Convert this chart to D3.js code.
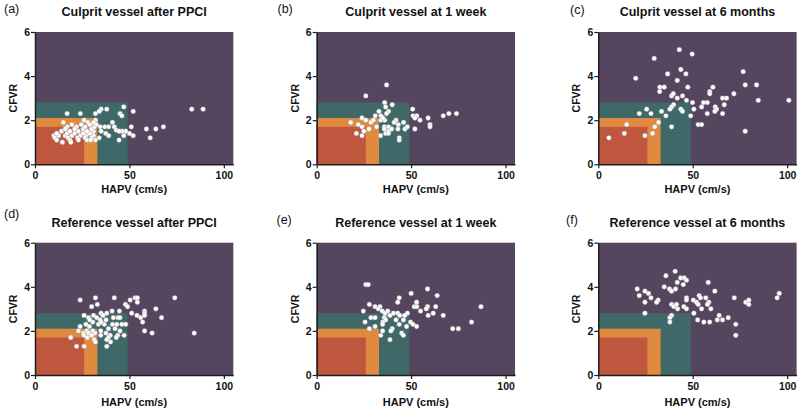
<!DOCTYPE html>
<html><head><meta charset="utf-8">
<script src="https://cdn.jsdelivr.net/npm/d3@7"></script>
<style>
html,body{margin:0;padding:0;background:#fff;}
svg{display:block;font-family:"Liberation Sans",Arial,sans-serif;}
</style></head>
<body>
<svg id="chart" width="800" height="413"></svg>
<script>
// ---------- data ----------
const panelLabels = ["(a)","(b)","(c)","(d)","(e)","(f)"];
const panelTitles = ["Culprit vessel after PPCI","Culprit vessel at 1 week","Culprit vessel at 6 months",
  "Reference vessel after PPCI","Reference vessel at 1 week","Reference vessel at 6 months"];
const xTicks = [0,50,100];
const yTicks = [0,2,4,6];
const xLabel = "HAPV (cm/s)";
const yLabel = "CFVR";
const zoneHAPV = [49,33,26];
const zoneCFVR = [2.8,2.1,1.7];

const culpritPPCI = [[17,2.3],[24,2.3],[35,2.5],[38,2.5],[34,2.4],[32,2.3],[47,2.6],[45,2.3],[46,2.2],[52,2.4],[83,2.5],[89,2.5],
 [26,2.0],[28,1.9],[32,2.0],[15,1.9],[17,1.7],[22,1.7],[34.5,1.7],[37,1.7],[39,1.7],[41,1.9],[42,1.7],[43,1.55],[51,1.7],
 [59,1.6],[64,1.6],[68,1.7],[61,1.2],[52,1.3],[50,1.4],[48,1.5],[46,1.5],[44.5,1.5],[47,1.3],[44.5,1.1],[37.5,1.4],[39,1.3],
 [35,1.5],[34,1.2],[32,1.1],
 [10,1.3],[12.5,1.3],[16,1.3],[19.5,1.3],[24,1.3],[27,1.3],[31,1.3],
 [11.5,1.4],[17,1.4],[21,1.4],[25.5,1.4],[29,1.4],
 [10.5,1.2],[17.5,1.2],[22.5,1.2],[26.5,1.2],[30,1.2],
 [11.5,1.1],[18.5,1.1],[23,1.1],[27.5,1.1],[29.5,1.1],
 [14.5,1.0],[19,1.0],
 [14,1.5],[18.5,1.5],[23,1.5],[27.5,1.5],[31,1.5],
 [16,1.6],[21,1.6],[25.5,1.6],[30,1.6],
 [26.5,1.7],[31.5,1.7],
 [19.5,1.8],[24.5,1.8],[29,1.8],[32.5,1.8],[31,1.9]];

const culprit1w = [[37,3.6],[26,3.1],[36,2.8],[40,2.7],[36.5,2.6],[38,2.4],[33,2.4],[31,2.2],[34,2.2],[37,2.3],[24,2.1],
 [26,2.0],[18,1.9],[28.7,1.9],[30,2.0],[34,2.0],[36,2.0],[42,2.0],[22,1.8],[24,1.7],[25,1.5],[21,1.4],[24,1.3],[27.7,1.6],
 [31.7,1.7],[35.8,1.7],[38,1.7],[39.7,1.6],[35.8,1.6],[38,1.5],[36.5,1.4],[38,1.4],[33.8,1.3],[43,1.6],[41,1.9],[43.2,1.8],
 [46,1.9],[46.7,1.6],[48,1.7],[43.7,1.2],[43.7,1.1],[50.8,2.5],[51,2.2],[53,2.2],[52,2.1],[54.7,2.0],[52,1.6],[59,2.1],
 [60,1.8],[60,1.7],[67,2.2],[70,2.3],[74,2.3],[35,2.1]];

const culprit6m = [[42.9,5.2],[49.7,5.0],[29.6,4.8],[43.7,4.3],[36.7,4.1],[46.4,4.1],[76.7,4.2],[19.8,3.9],[41.8,3.8],
 [77.8,3.6],[83.8,3.6],[32.6,3.5],[34.9,3.5],[47.4,3.5],[60.7,3.5],[59,3.3],[59,3.2],[71.8,3.2],[32.5,3.3],[38.8,3.1],
 [39.7,3.2],[41.8,3.0],[44.6,3.1],[46.7,2.9],[49.9,2.8],[55.7,2.8],[57.7,2.8],[65.8,3.0],[67.9,3.0],[84.7,2.9],[100.9,2.9],
 [39.9,2.7],[38.8,2.6],[37.9,2.5],[43.7,2.5],[44.6,2.4],[50.6,2.5],[54.7,2.6],[61.9,2.6],[62.6,2.5],[61.7,2.4],[66.7,2.7],
 [65.8,2.3],[57.7,2.3],[48.9,2.2],[35.8,2.2],[33.5,2.4],[25.6,2.5],[27.9,2.3],[21.7,2.3],[31.9,1.9],[29.9,1.7],[38.8,1.7],
 [15,1.8],[52.9,1.8],[54.7,1.8],[77.8,1.5],[5.6,1.2],[13.8,1.4],[24.7,1.3],[28.7,1.4]];

const referencePPCI = [[23.9,3.4],[32,3.5],[42,3.5],[53,3.5],[54.2,3.5],[74,3.5],[33,3.2],[30,3.1],[47.9,3.2],[49,3.1],
 [50.4,3.4],[54.2,3.3],[64,3.0],[58,2.9],[58,2.8],[58,2.7],[51.2,2.8],[54,2.7],[56,2.6],[57,2.4],[67,2.6],[58,2.0],[62,1.9],
 [84.3,1.9],[44.7,2.9],[40.8,2.9],[38,2.8],[35,2.8],[36,2.7],[26,2.7],[31,2.7],[28.3,2.6],[32.7,2.6],[34.5,2.5],[37.6,2.5],
 [41.5,2.6],[44,2.6],[45,2.6],[30.6,2.4],[33.6,2.3],[36.7,2.3],[41,2.3],[43.3,2.3],[46,2.3],[48,2.3],[27,2.3],[23.9,2.2],
 [28.8,2.2],[23,2.0],[27.4,2.0],[30.6,2.0],[34.8,2.0],[38.9,2.1],[42.4,2.1],[45,2.0],[25.6,1.9],[28.3,1.9],[31.8,1.9],
 [37.6,1.9],[26,1.8],[30,1.8],[34.8,1.8],[39.8,1.8],[43.8,1.8],[47.2,1.8],[18.9,1.7],[27.7,1.7],[38.9,1.7],[43,1.7],
 [31.4,1.6],[38,1.6],[32,1.5],[40,1.5],[22,1.3],[26,1.3],[38,1.3],[35,2.4],[29,2.5]];

const reference1w = [[26,4.1],[27.3,4.1],[58.7,3.9],[50,3.7],[63.8,3.6],[43.7,3.5],[42.9,3.3],[52.9,3.3],[27.9,3.2],
 [30.9,3.1],[33.5,3.1],[51.7,3.1],[53,3.1],[58.7,3.1],[63,3.1],[87,3.1],[24.7,2.9],[32.6,3.0],[34.7,2.9],[37.6,2.9],
 [40.6,2.8],[42.9,2.8],[48,2.8],[55,2.9],[58,3.0],[61.7,2.8],[59,2.7],[67,2.7],[36.2,2.8],[38.8,2.7],[44,2.7],[46.6,2.7],
 [28.7,2.6],[30.9,2.6],[35.8,2.6],[36.5,2.5],[42,2.5],[45.9,2.5],[25.6,2.4],[35,2.4],[49.7,2.4],[51,2.3],[52.9,2.2],
 [82,2.4],[43.7,2.3],[34.9,2.3],[30.9,2.2],[40,2.1],[47.6,2.2],[27.9,2.1],[72,2.1],[75,2.1],[34.9,2.0],[39.3,2.0],
 [45,1.9],[45.9,1.8],[33.9,1.8],[38.8,1.6]];

const reference6m = [[40.7,4.7],[35.8,4.5],[43.6,4.4],[45.5,4.4],[46.7,4.3],[41.8,4.2],[45,4.1],[58.2,4.2],[34.9,4.0],
 [37.7,3.9],[40.9,3.9],[20.6,3.9],[38.8,3.8],[24.7,3.8],[61.7,3.8],[21.7,3.6],[26.6,3.7],[27.9,3.5],[31.7,3.4],[30.9,3.3],
 [24.7,3.3],[46.7,3.5],[46.7,3.4],[50.3,3.4],[53.4,3.6],[54.1,3.5],[56.9,3.5],[58.5,3.3],[57.8,3.2],[59.6,3.0],[52,3.3],
 [52.9,3.2],[38.8,3.2],[40,3.1],[42,3.0],[41.4,3.2],[45.3,3.1],[46.7,3.0],[54.7,3.0],[50.6,2.8],[24.7,2.8],[38.8,2.7],
 [37.9,2.6],[37.9,2.4],[52.6,2.5],[55.9,2.4],[59,2.4],[64,2.7],[63,2.5],[65.8,2.5],[68.8,2.6],[72,3.5],[78.1,3.3],
 [79.7,3.4],[79.7,3.2],[72.8,2.3],[72.8,1.8],[94.7,3.5],[95.8,3.7]];

const panelData = [culpritPPCI, culprit1w, culprit6m, referencePPCI, reference1w, reference6m];

// ---------- layout / style ----------
const colLeft = [35, 316.7, 598.3];
const rowTop = [32, 242.7];
const plotW = 198.3, plotH = 132.3;
const labelPos = [[4,13],[277.5,13],[570,14],[4,217.5],[276.5,224],[566,224]];
const zoneFill = ["#3f6969","#df8a3e","#bf573f"];
const bgFill = "#56455f";

const svg = d3.select("#chart");

panelData.forEach((pts, i) => {
  const col = i % 3, row = Math.floor(i / 3);
  const x0 = colLeft[col], y0 = rowTop[row];
  const x = d3.scaleLinear().domain([0,105]).range([0, plotW]);
  const y = d3.scaleLinear().domain([0,6]).range([plotH, 0]);
  const g = svg.append("g").attr("transform", `translate(${x0},${y0})`);

  g.append("rect").attr("x", x(0)).attr("y", y(6)).attr("width", x(105)-x(0)).attr("height", y(0)-y(6)).attr("fill", bgFill);
  zoneHAPV.forEach((hx, k) => {
    g.append("rect").attr("x", x(0)).attr("y", y(zoneCFVR[k]))
      .attr("width", x(hx)-x(0)).attr("height", y(0)-y(zoneCFVR[k])).attr("fill", zoneFill[k]);
  });

  g.selectAll("circle.pt").data(pts).enter().append("circle").attr("class","pt")
    .attr("cx", d => x(d[0])).attr("cy", d => y(d[1])).attr("r", 2.4)
    .attr("fill", "#ffffff").attr("stroke", "#9a9a9a").attr("stroke-width", 0.4);

  const fmt = d3.format("d");
  const xAxis = d3.axisBottom(x).tickValues(xTicks).tickFormat(fmt).tickSize(4).tickPadding(3.5).tickSizeOuter(0);
  const yAxis = d3.axisLeft(y).tickValues(yTicks).tickFormat(fmt).tickSize(4).tickPadding(1).tickSizeOuter(0);
  const gx = g.append("g").attr("transform", `translate(0,${plotH})`).call(xAxis);
  const gy = g.append("g").call(yAxis);
  [gx, gy].forEach(a => {
    a.select(".domain").attr("stroke", "#1e1e1e").attr("stroke-width", 1.5);
    a.selectAll(".tick line").attr("stroke", "#1e1e1e").attr("stroke-width", 1.2);
    a.selectAll(".tick text").attr("fill", "#111").style("font-size", "10.5px").style("font-weight", "bold")
      .style("font-family", '"Liberation Sans",Arial,sans-serif');
  });

  g.append("text").attr("x", plotW/2).attr("y", plotH + (row === 0 ? 29 : 31.5))
    .attr("text-anchor", "middle").style("font-size", "11px").style("font-weight", "bold").attr("fill", "#111").text(xLabel);
  g.append("text").attr("transform", `translate(-18,${plotH/2}) rotate(-90)`)
    .attr("text-anchor", "middle").style("font-size", "10.5px").style("font-weight", "bold").attr("fill", "#111").text(yLabel);
  g.append("text").attr("x", plotW/2).attr("y", -16)
    .attr("text-anchor", "middle").style("font-size", "12.5px").style("font-weight", "bold").attr("fill", "#111").text(panelTitles[i]);

  svg.append("text").attr("x", labelPos[i][0]).attr("y", labelPos[i][1])
    .style("font-size", "12.5px").attr("fill", "#111").text(panelLabels[i]);
});
</script>
</body></html>
